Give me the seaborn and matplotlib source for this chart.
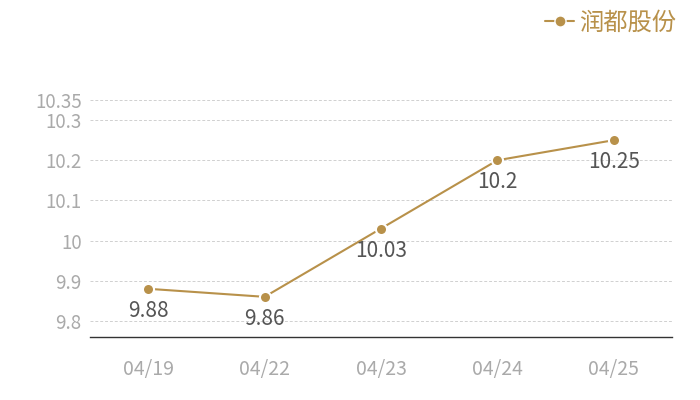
import matplotlib
matplotlib.use("Agg")
import matplotlib.pyplot as plt
import seaborn as sns
import pandas as pd
from matplotlib.lines import Line2D

dates = ["04/19", "04/22", "04/23", "04/24", "04/25"]
prices = [9.88, 9.86, 10.03, 10.2, 10.25]
series_name = "润都股份"
yticks = [9.8, 9.9, 10.0, 10.1, 10.2, 10.3, 10.35]
ytick_labels = ["9.8", "9.9", "10", "10.1", "10.2", "10.3", "10.35"]

sns.set_theme(style="white")
plt.rcParams['font.family'] = ['Noto Sans CJK SC', 'DejaVu Sans']

color = "#b8914a"
df = pd.DataFrame({"date": dates, "price": prices, "x": range(len(dates))})

fig = plt.figure(figsize=(7, 4), dpi=100)
ax = fig.add_axes([90/700, 1-337/400, 582/700, 237/400])

sns.lineplot(data=df, x="x", y="price", ax=ax, color=color, linewidth=1.5,
             marker="o", markersize=8, markeredgecolor="white", markeredgewidth=1.5,
             label=series_name, legend=False)

for xi, v in zip(df["x"], prices):
    ax.annotate(f"{v:g}", (xi, v), xytext=(0, -16), textcoords="offset points",
                ha="center", va="center", fontsize=15, color="#555555")

ax.set_xlim(-0.5, len(dates) - 0.5)
ax.set_ylim(9.76, 10.35)
ax.set_xticks(range(len(dates)))
ax.set_xticklabels(dates)
ax.set_yticks(yticks)
ax.set_yticklabels(ytick_labels)
ax.tick_params(axis="both", length=0, labelcolor="#aaaaaa")
ax.tick_params(axis="x", pad=16, labelsize=14)
ax.tick_params(axis="y", pad=6, labelsize=13.5)
ax.set_xlabel("")
ax.set_ylabel("")
ax.grid(axis="y", linestyle=(0, (3, 2)), color="#d0d0d0", linewidth=0.7)
ax.grid(axis="x", visible=False)
for s in ["top", "right", "left"]:
    ax.spines[s].set_visible(False)
ax.spines["bottom"].set_color("#333333")
ax.spines["bottom"].set_linewidth(1)

h = Line2D([], [], color=color, linewidth=1.5, marker="o", markersize=8,
           markeredgecolor="white", markeredgewidth=1)
leg = fig.legend([h], [series_name], loc="upper right", bbox_to_anchor=(0.997, 1.03),
                 frameon=False, fontsize=17.5, handlelength=1.2, handletextpad=0.2)
for t in leg.get_texts():
    t.set_color(color)

fig.savefig("out.png", dpi=100)
